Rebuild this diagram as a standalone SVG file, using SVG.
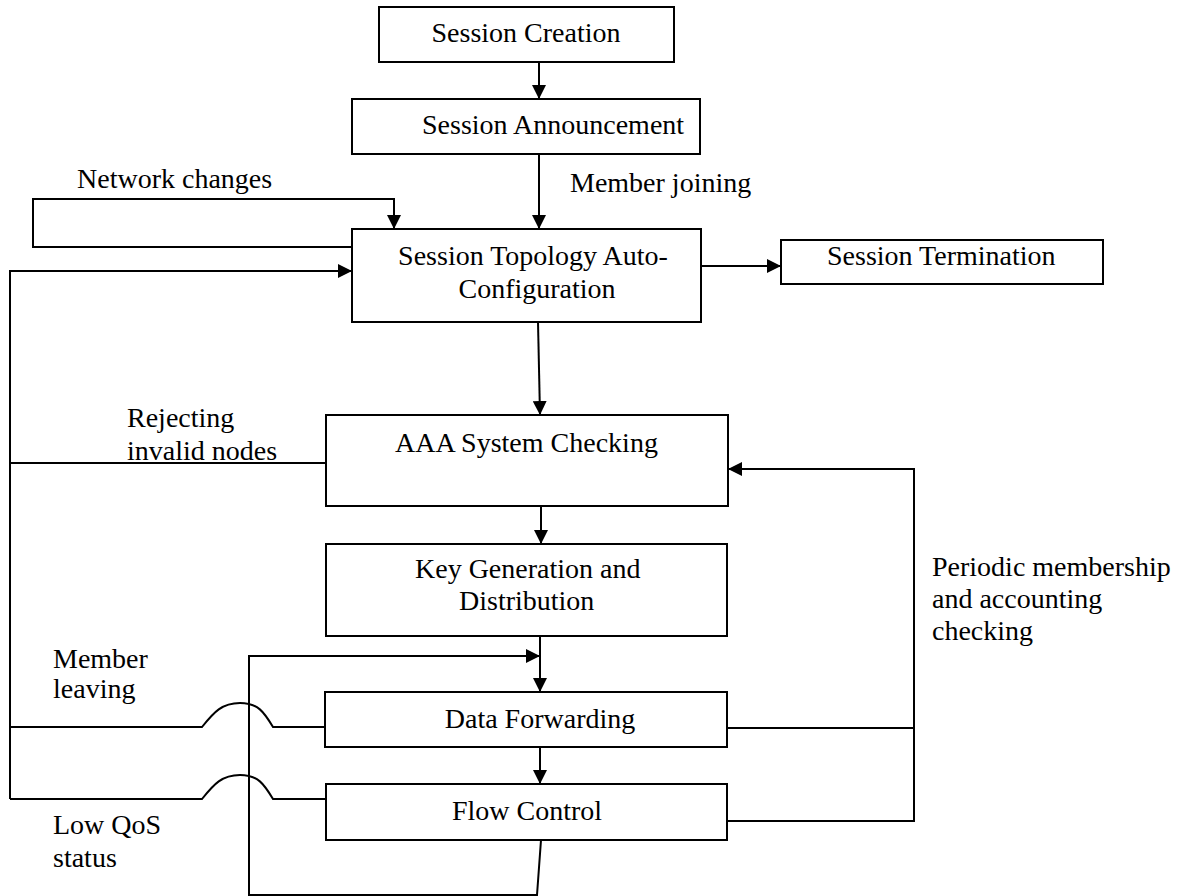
<svg xmlns="http://www.w3.org/2000/svg" width="1183" height="896" viewBox="0 0 1183 896">
  <style>
    .box { fill: #fff; stroke: #000; stroke-width: 2; }
    .wire { fill: none; stroke: #000; stroke-width: 2; }
    .arr { marker-end: url(#head); }
    text { font-family: "Liberation Serif", "Times New Roman", serif; font-size: 28px; fill: #000; }
    .c { text-anchor: middle; }
  </style>
  <defs>
    <marker id="head" viewBox="0 0 14 14" refX="14" refY="7" markerWidth="14" markerHeight="14" markerUnits="userSpaceOnUse" orient="auto">
      <path d="M0,0 L14,7 L0,14 Z" fill="#000"/>
    </marker>
  </defs>
  <rect width="1183" height="896" fill="#fff"/>

  <!-- connectors -->
  <g id="connectors">
    <path class="wire arr" d="M539,62 V99"/>
    <path class="wire arr" d="M539,154 V229"/>
    <!-- network changes loop -->
    <path class="wire arr" d="M353,247 H33 V199 H394 V229"/>
    <!-- left feedback bus into topology -->
    <path class="wire arr" d="M10,799 V271 H352"/>
    <path class="wire arr" d="M701,266 H781"/>
    <path class="wire arr" d="M538,322 L540,415"/>
    <!-- rejecting invalid nodes -->
    <path class="wire" d="M326,463 H10"/>
    <path class="wire arr" d="M541,506 V544"/>
    <path class="wire arr" d="M540,636 V692"/>
    <path class="wire arr" d="M540,747 V784"/>
    <!-- member leaving, hop over the return loop -->
    <path class="wire" d="M10,727 H202 C214,712 222,703 240,703 C258,703 264,712 273,727 H325"/>
    <!-- low QoS status, hop over the return loop -->
    <path class="wire" d="M10,799 H202 C214,784 222,775 240,775 C258,775 264,784 273,799 H326"/>
    <!-- return loop from flow control back into data forwarding -->
    <path class="wire arr" d="M541,840 L537,895 H249 V656 H540"/>
    <!-- periodic checking bus on the right -->
    <path class="wire" d="M727,728 H914"/>
    <path class="wire arr" d="M727,821 H914 V469 H728"/>
  </g>

  <g id="session-creation">
    <rect class="box" x="379" y="7" width="295" height="55"/>
    <text class="c" x="526" y="42">Session Creation</text>
  </g>
  <g id="session-announcement">
    <rect class="box" x="352" y="99" width="348" height="55"/>
    <text x="422" y="134">Session Announcement</text>
  </g>
  <g id="session-topology">
    <rect class="box" x="352" y="229" width="349" height="93"/>
    <text class="c" x="533" y="265">Session Topology Auto-</text>
    <text class="c" x="537" y="298">Configuration</text>
  </g>
  <g id="session-termination">
    <rect class="box" x="781" y="240" width="322" height="44"/>
    <text x="827" y="265">Session Termination</text>
  </g>
  <g id="aaa-checking">
    <rect class="box" x="326" y="415" width="402" height="91"/>
    <text x="395" y="452">AAA System Checking</text>
  </g>
  <g id="key-generation">
    <rect class="box" x="326" y="544" width="401" height="92"/>
    <text x="415" y="578">Key Generation and</text>
    <text x="459" y="610">Distribution</text>
  </g>
  <g id="data-forwarding">
    <rect class="box" x="325" y="692" width="402" height="55"/>
    <text class="c" x="540" y="728">Data Forwarding</text>
  </g>
  <g id="flow-control">
    <rect class="box" x="326" y="784" width="401" height="56"/>
    <text x="452" y="820">Flow Control</text>
  </g>

  <g id="labels">
    <text x="77" y="188">Network changes</text>
    <text x="570" y="192">Member joining</text>
    <text x="127" y="427">Rejecting</text>
    <text x="127" y="460">invalid nodes</text>
    <text x="53" y="668">Member</text>
    <text x="53" y="698">leaving</text>
    <text x="53" y="834">Low QoS</text>
    <text x="53" y="867">status</text>
    <text x="932" y="576">Periodic membership</text>
    <text x="932" y="608">and accounting</text>
    <text x="932" y="640">checking</text>
  </g>
</svg>
